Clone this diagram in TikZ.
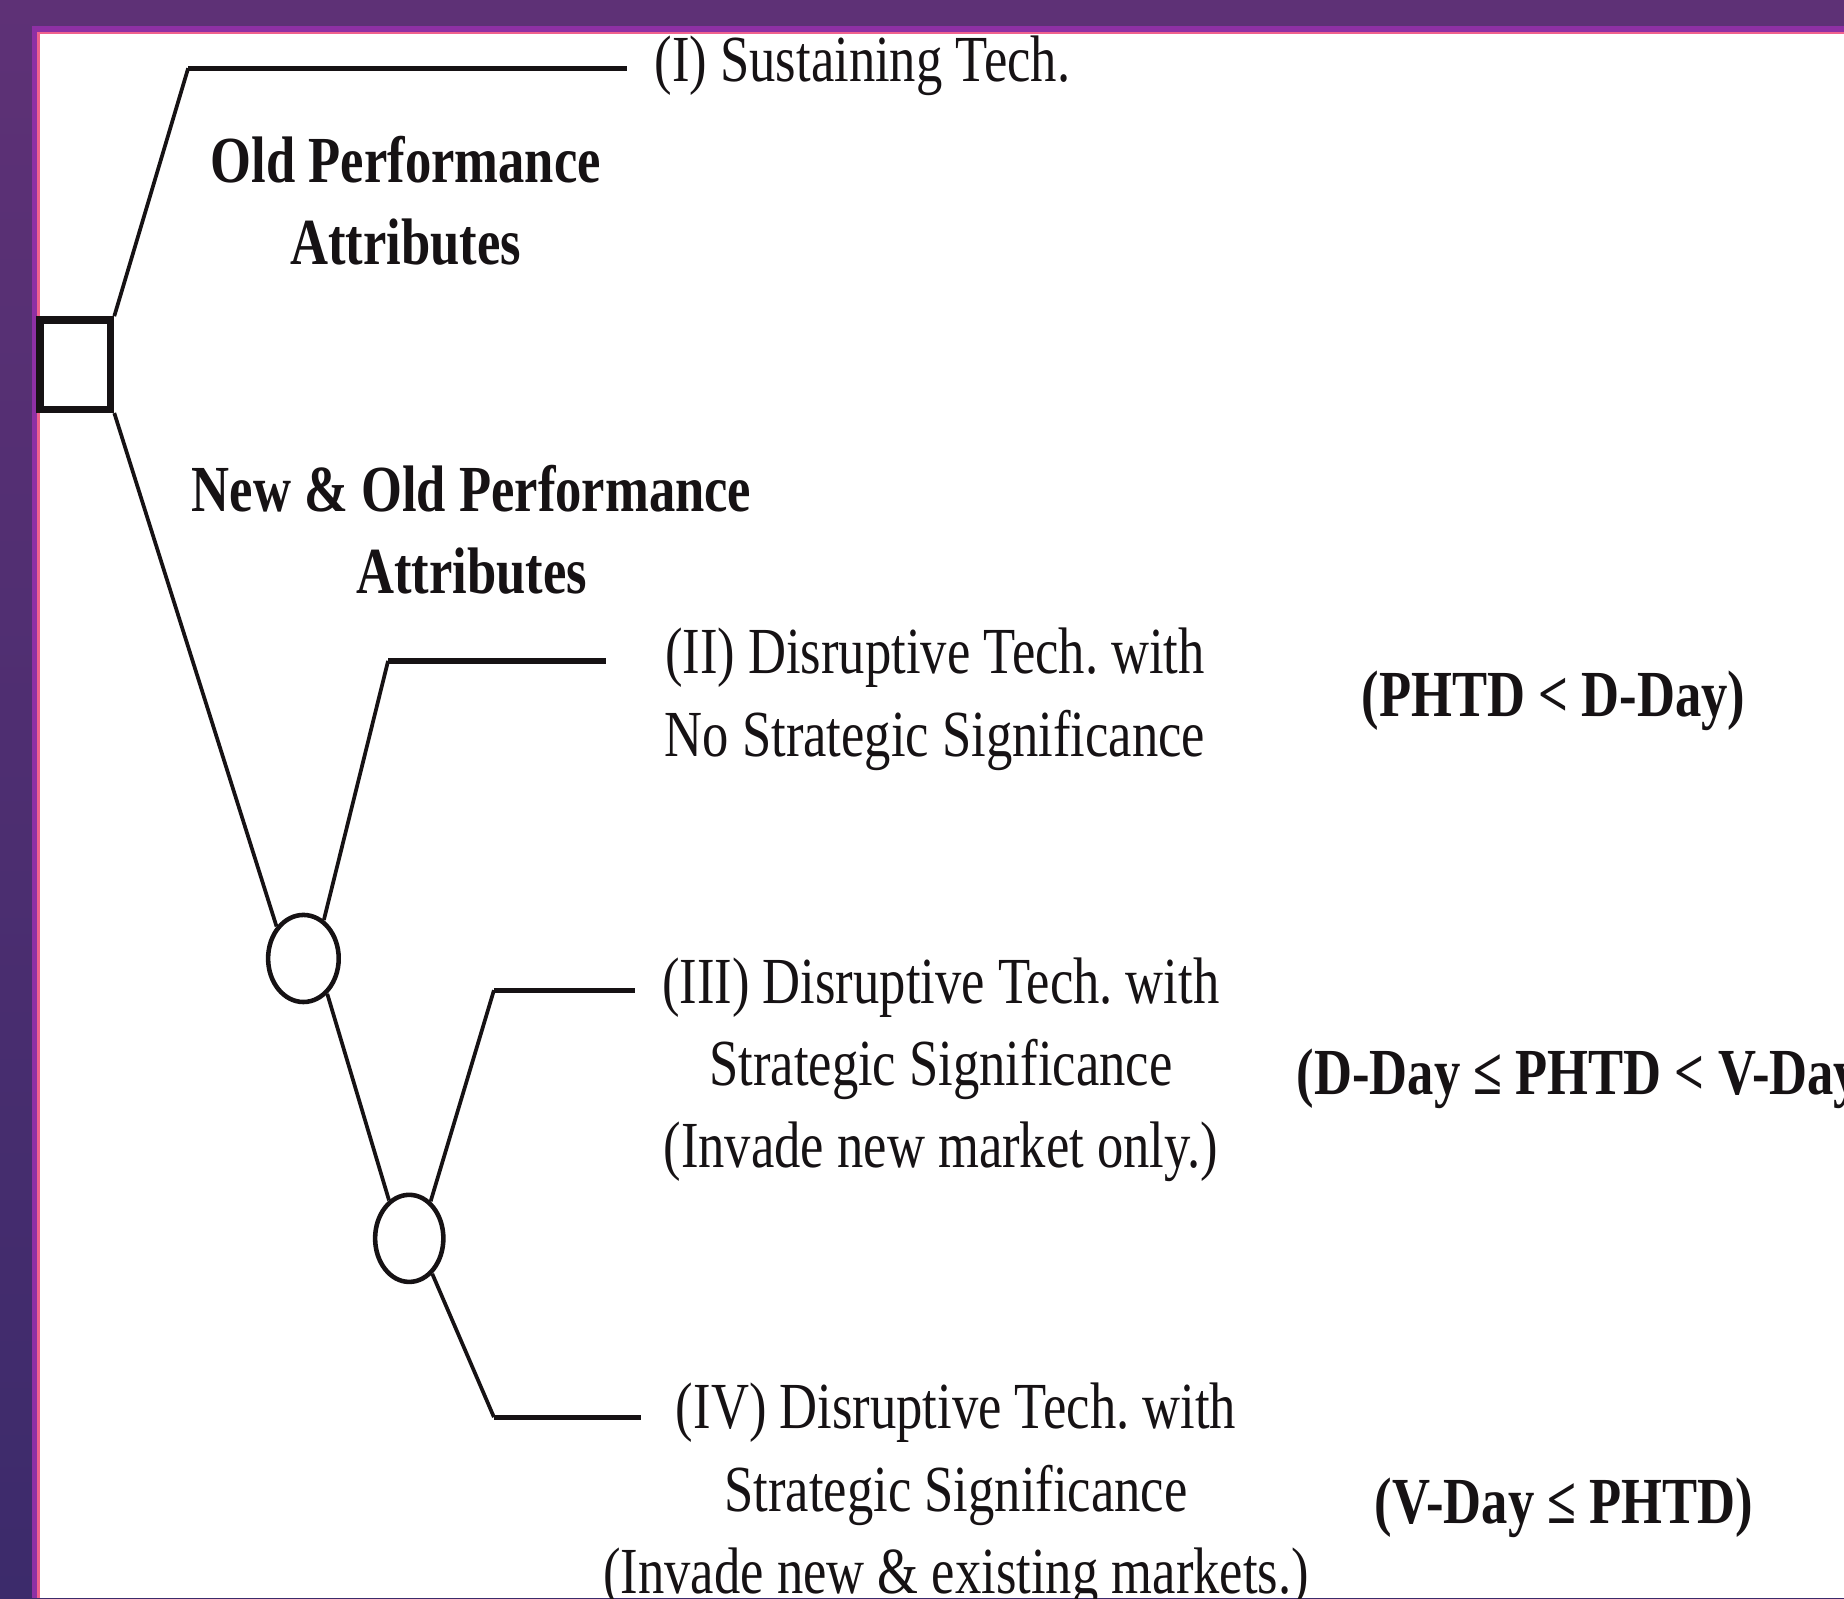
\documentclass[tikz,border=0pt]{standalone}
\usepackage{fontspec}
\setmainfont{Liberation Serif}
\usetikzlibrary{shapes.geometric}
\frenchspacing
\definecolor{bgtop}{HTML}{5E3176}
\definecolor{bgbot}{HTML}{3C2B6B}
\definecolor{edgemag}{HTML}{8E30A4}
\definecolor{edgepink}{HTML}{F0628E}
\definecolor{ink}{HTML}{161214}
\tikzset{
 branch/.style={line width=0.9pt, ink},
 stub/.style={line width=1.25pt, ink},
 txt/.style={inner sep=0pt, text=ink, font=\fontsize{15.9}{19.9}\selectfont},
 btxt/.style={inner sep=0pt, text=ink, font=\fontsize{15.9}{19.9}\selectfont\bfseries},
 decbox/.style={draw=ink, line width=1.8pt, minimum width=0.6cm, minimum height=0.76cm, inner sep=0pt},
 chance/.style={draw=ink, ellipse, line width=1.1pt, minimum width=0.6cm, minimum height=0.74cm, inner sep=0pt}
}
\newcommand{\nar}[1]{\scalebox{0.8}[1]{#1}}
\newcommand{\stk}[1]{\scalebox{0.8}[1]{\begin{tabular}{@{}c@{}}#1\end{tabular}}}
\begin{document}
\begin{tikzpicture}[x=0.01cm,y=-0.01cm]
\useasboundingbox (0,0) rectangle (1568,1359);
\clip (0,0) rectangle (1568,1359);
% background
\fill[top color=bgtop, bottom color=bgbot] (0cm,0cm) rectangle (15.68cm,-13.59cm);
\fill[edgemag] (27,22) rectangle (1568,28);
\fill[edgemag] (27,22) rectangle (33,1359);
\fill[white] (33,28) rectangle (1568,1359);
\draw[edgepink, line width=0.7pt] (33,1359) -- (33,28) -- (1568,28);
% nodes
\node[decbox] (sq) at (64,310) {};
\node[chance] (c1) at (258,815) {};
\node[chance, minimum width=0.58cm] (c2) at (348,1053) {};
\coordinate (k1) at (160,58);
\coordinate (e1) at (533,58);
\coordinate (k2) at (330,562);
\coordinate (e2) at (515,562);
\coordinate (k3) at (420,842);
\coordinate (e3) at (540,842);
\coordinate (k4) at (420,1205);
\coordinate (e4) at (545,1205);
% connectors
\draw[branch] (sq.north east) -- (k1);
\draw[stub] (k1) -- (e1);
\draw[branch] (sq.south east) -- (c1.130);
\draw[branch] (c1.62) -- (k2);
\draw[stub] (k2) -- (e2);
\draw[branch] (c1.-56) -- (c2.118);
\draw[branch] (c2.60) -- (k3);
\draw[stub] (k3) -- (e3);
\draw[branch] (c2.-57) -- (k4);
\draw[stub] (k4) -- (e4);
% texts
\node[txt, anchor=west] (t1) at (556,56) {\nar{(I) Sustaining Tech.}};
\node[btxt] (l1) at (345,176) {\stk{Old Performance\\Attributes}};
\node[btxt] (l2) at (401,456) {\stk{New \& Old Performance\\Attributes}};
\node[txt] (t2) at (795,594) {\stk{(II) Disruptive Tech. with\\No Strategic Significance}};
\node[txt] (t3) at (800,909) {\stk{(III) Disruptive Tech. with\\Strategic Significance\\(Invade new market only.)}};
\node[txt] (t4) at (813,1271) {\stk{(IV) Disruptive Tech. with\\Strategic Significance\\(Invade new \& existing markets.)}};
\node[btxt] (r2) at (1321,596) {\nar{(PHTD < D-Day)}};
\node[btxt, anchor=west] (r3) at (1102,917) {\nar{(D-Day ≤ PHTD < V-Day)}};
\node[btxt] (r4) at (1330,1282) {\nar{(V-Day ≤ PHTD)}};
\end{tikzpicture}
\end{document}
